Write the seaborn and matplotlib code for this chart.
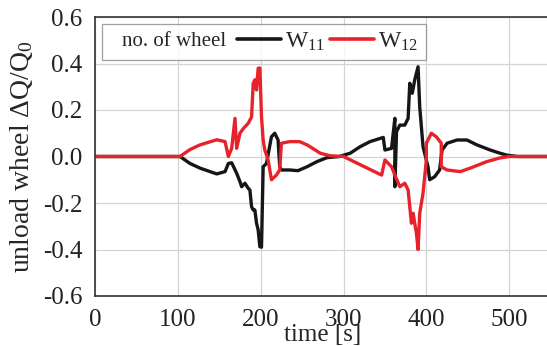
import numpy as np
import pandas as pd
import matplotlib
matplotlib.use("Agg")
import matplotlib.pyplot as plt
import seaborn as sns
from matplotlib.lines import Line2D
from matplotlib.offsetbox import HPacker, DrawingArea

# ---- data ----
t11 = [0, 100, 102.6, 114.7, 126.8, 147, 157, 161, 165, 171, 175, 177, 181, 185, 187, 189,
       191, 193, 195, 197, 199, 201, 203, 207, 213, 217, 221, 223, 225, 235, 245, 256, 268,
       280, 295, 308, 320, 332, 348, 350, 358, 362, 362, 364, 368, 374, 378, 380, 383, 386,
       390, 392, 396, 402, 404, 410, 416, 419, 425, 437, 449, 461, 477, 489, 497, 510, 550]
w11 = [0, 0, 0, -0.03, -0.05, -0.075, -0.065, -0.03, -0.027, -0.072, -0.108, -0.13, -0.115,
       -0.137, -0.144, -0.216, -0.23, -0.23, -0.287, -0.316, -0.388, -0.39, -0.044, -0.03,
       0.085, 0.1, 0.071, -0.044, -0.058, -0.058, -0.061, -0.044, -0.022, -0.005, 0.0, 0.014,
       0.042, 0.064, 0.082, 0.028, 0.035, 0.164, -0.13, 0.107, 0.135, 0.135, 0.164, 0.315,
       0.272, 0.33, 0.386, 0.214, 0.042, -0.044, -0.1, -0.087, -0.058, 0.028, 0.057, 0.071,
       0.071, 0.05, 0.028, 0.014, 0.006, 0, 0]

t12 = [0, 100, 102.6, 114.7, 126.8, 147, 157, 161, 165, 169, 171, 175, 179, 185, 187, 189,
       191, 193, 195, 197, 199, 201, 203, 205, 209, 213, 219, 223, 225, 235, 247, 256, 272,
       284, 300, 308, 320, 346, 350, 358, 362, 368, 374, 378, 382, 384, 388, 390, 392, 396,
       400, 400, 406, 412, 418, 418, 425, 441, 453, 473, 489, 500, 550]
w12 = [0, 0, 0, 0.03, 0.05, 0.072, 0.064, 0.0, 0.035, 0.164, 0.035, 0.1, 0.12, 0.143, 0.157,
       0.17, 0.315, 0.33, 0.286, 0.38, 0.38, 0.17, 0.071, 0.028, -0.015, -0.1, -0.08, -0.058,
       0.057, 0.064, 0.064, 0.05, 0.014, 0.003, 0.0, -0.014, -0.035, -0.08, -0.015, -0.044,
       -0.08, -0.13, -0.115, -0.144, -0.287, -0.244, -0.33, -0.40, -0.244, -0.158, -0.015,
       0.057, 0.1, 0.085, 0.057, -0.044, -0.058, -0.065, -0.05, -0.022, -0.006, 0, 0]

xticks = [0, 100, 200, 300, 400, 500]
yticks = [-0.6, -0.4, -0.2, 0.0, 0.2, 0.4, 0.6]
ytick_labels = ["-0.6", "-0.4", "-0.2", "0.0", "0.2", "0.4", "0.6"]

df = pd.concat([
    pd.DataFrame({"time": t11, "value": w11, "wheel": "W11", "order": range(len(t11))}),
    pd.DataFrame({"time": t12, "value": w12, "wheel": "W12", "order": range(len(t12))}),
])

sns.set_style("white")
plt.rcParams["font.family"] = ["Liberation Serif", "DejaVu Serif"]
plt.rcParams["mathtext.fontset"] = "custom"
plt.rcParams["mathtext.rm"] = "Liberation Serif"
plt.rcParams["mathtext.it"] = "Liberation Serif"

fig = plt.figure(figsize=(5.47, 3.46), dpi=100)
ax = fig.add_axes([95 / 547, 1 - 296 / 346, 455.6 / 547, 279 / 346])

palette = {"W11": "#161616", "W12": "#e8222b"}
sns.lineplot(data=df, x="time", y="value", hue="wheel", palette=palette, sort=False,
             estimator=None, lw=2.4, ax=ax, legend=False)

ax.set_xlim(0, 550)
ax.set_ylim(-0.6, 0.6)
ax.set_xticks(xticks)
ax.set_xticks(np.arange(50, 550, 100), minor=True)
ax.set_yticks(yticks)
ax.set_yticklabels(ytick_labels)
ax.set_yticks(np.arange(-0.5, 0.6, 0.2), minor=True)
ax.grid(True, which="major", color="#d4d4d4", lw=0.9)
ax.tick_params(which="major", direction="inout", length=6, width=1, labelsize=18, pad=6,
               colors="#222222")
ax.tick_params(which="minor", direction="in", length=3, width=1, colors="#222222")
for s in ax.spines.values():
    s.set_color("#333333")
    s.set_linewidth(1.2)

ax.set_xlabel("time [s]", fontsize=18, labelpad=-5)
ax.set_ylabel(r"unload wheel $\Delta$Q/Q$_0$", fontsize=20, labelpad=6)

handles = [Line2D([], [], color=palette["W11"], lw=2.6),
           Line2D([], [], color=palette["W12"], lw=2.6)]
leg = ax.legend(handles, [r"W$_{11}$", r"W$_{12}$"], ncol=2, title="no. of wheel",
                loc="upper left", bbox_to_anchor=(0.005, 0.993), fontsize=17,
                title_fontsize=15, frameon=True, fancybox=False, handlelength=1.85,
                handletextpad=0.2, columnspacing=0.2, borderpad=0.3,
                borderaxespad=0.2)
leg.get_frame().set_edgecolor("#888888")
leg.get_frame().set_linewidth(0.9)
vp = leg._legend_box
kids = list(vp.get_children())
spacer = DrawingArea(1, 1)
hp = HPacker(pad=0, sep=8, align="center", children=[spacer] + kids)
hp.set_figure(fig)
vp._children = [hp]

fig.savefig("out.png", dpi=100)
